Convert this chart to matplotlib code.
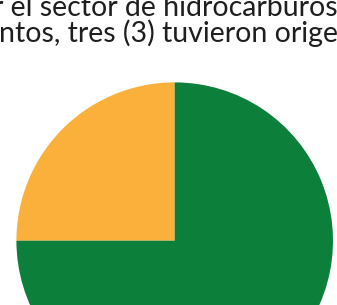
import matplotlib.pyplot as plt

# incidents by origin (3 of 4 from the hydrocarbon sector)
origins = ["Otro origen", "Sector de hidrocarburos"]
counts = [1, 3]
colors = ["#fbb03b", "#0c803a"]

W, H = 337, 305
fig = plt.figure(figsize=(W / 100, H / 100), dpi=100)

# pie placed in pixel terms: centre (175, 241 from top), radius 158
cx, cy, r = 174.7, 240.7, 158.3
ax = fig.add_axes([(cx - r) / W, (H - cy - r) / H, 2 * r / W, 2 * r / H])
ax.pie(counts, colors=colors, startangle=90, radius=1,
       wedgeprops=dict(linewidth=0))
ax.set_xlim(-1, 1)
ax.set_ylim(-1, 1)
ax.set_aspect("equal")
ax.axis("off")

font = dict(family="Lato", fontsize=20.5, color="#1e1e1e", ha="left", va="baseline")
fig.text(-7 / W, 1 - 16 / H, "r el sector de hidrocarburos", **font)
fig.text(-1 / W, 1 - 42 / H, "ntos, tres (3) tuvieron origen", **font)

fig.savefig("out.png", dpi=100)
